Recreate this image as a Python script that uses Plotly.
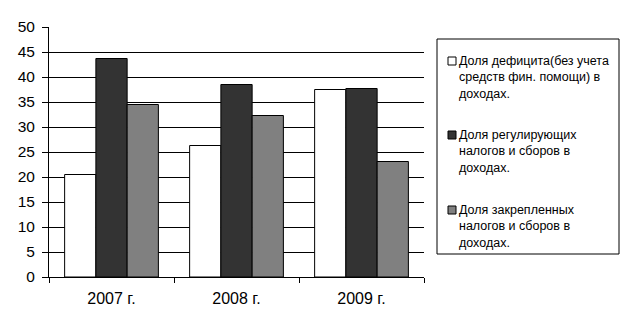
import plotly.graph_objects as go

categories = ["2007 г.", "2008 г.", "2009 г."]
deficit_share = [20.5, 26.3, 37.5]
regulating_share = [43.7, 38.5, 37.7]
fixed_share = [34.5, 32.3, 23.1]
series_names = [
    "Доля дефицита(без учета<br>средств фин. помощи) в<br>доходах.",
    "Доля регулирующих<br>налогов и сборов в<br>доходах.",
    "Доля закрепленных<br>налогов и сборов в<br>доходах.",
]
series_colors = ["#ffffff", "#333333", "#808080"]
y_ticks = list(range(0, 51, 5))

FONT = "Liberation Sans, Arial, sans-serif"

fig = go.Figure()
for name, vals, col in zip(series_names, [deficit_share, regulating_share, fixed_share], series_colors):
    fig.add_trace(go.Bar(x=categories, y=vals, name=name,
                         marker=dict(color=col, line=dict(color="black", width=1)),
                         showlegend=False))

L, R, T, B = 49, 208, 27, 51
W, H = 632, 328
pw = W - L - R
ph = H - T - B

def px(x):
    return (x - L) / pw

def py(y):
    return (H - B - y) / ph

fig.update_layout(
    width=W, height=H,
    margin=dict(l=L, r=R, t=T, b=B, pad=0),
    paper_bgcolor="white", plot_bgcolor="white",
    barmode="group", bargap=0.25, bargroupgap=0,
    font=dict(family=FONT, size=15, color="black"),
    xaxis=dict(showline=True, linecolor="black", linewidth=1,
               ticks="outside", tickson="boundaries", ticklen=5, tickcolor="black",
               ticklabelstandoff=7,
               showgrid=False, tickfont=dict(size=16), fixedrange=True),
    yaxis=dict(range=[0, 50], tickvals=y_ticks, showline=True, linecolor="black", linewidth=1,
               ticks="outside", ticklen=6, tickcolor="black",
               ticklabelstandoff=4,
               showgrid=True, gridcolor="black", gridwidth=1,
               zeroline=False, tickfont=dict(size=15.5), fixedrange=True),
)

# Legend box
fig.add_shape(type="rect", xref="paper", yref="paper",
              x0=px(437), x1=px(619), y0=py(254), y1=py(39),
              line=dict(color="black", width=1), fillcolor="white")

item_tops = [52, 126, 201]
for name, col, top in zip(series_names, series_colors, item_tops):
    fig.add_shape(type="rect", xref="paper", yref="paper",
                  x0=px(448), x1=px(456), y0=py(top + 13), y1=py(top + 5),
                  line=dict(color="black", width=1), fillcolor=col)
    fig.add_annotation(xref="paper", yref="paper", x=px(457), y=py(top),
                       xanchor="left", yanchor="top", align="left",
                       text=name, showarrow=False,
                       font=dict(family=FONT, size=12.5, color="black"))

fig.write_html("out.html")
